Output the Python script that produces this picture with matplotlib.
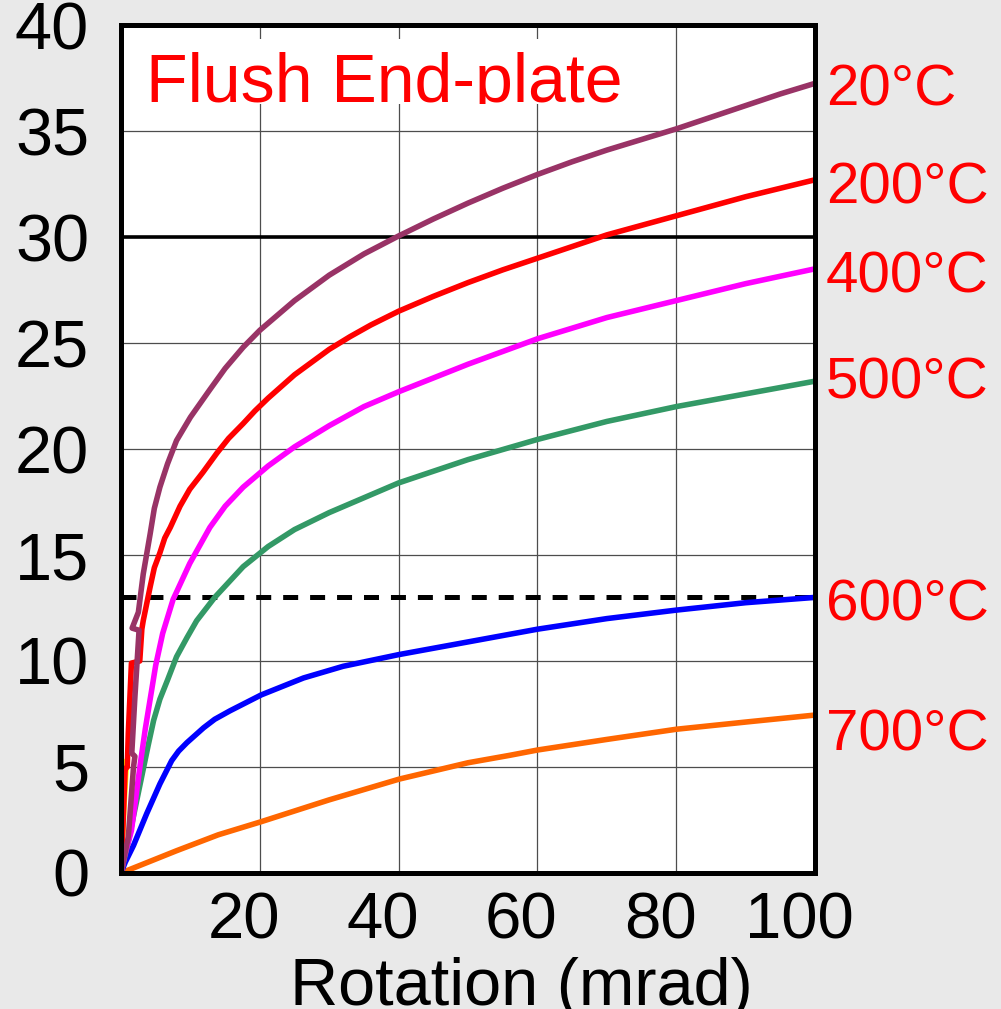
import matplotlib
matplotlib.use("Agg")
import matplotlib.pyplot as plt
import matplotlib.transforms as mtransforms
from matplotlib.patches import Rectangle

plt.rcParams["font.family"] = ["Liberation Sans", "DejaVu Sans"]
plt.rcParams["lines.scale_dashes"] = False

# rotation (mrad) / moment curves
X_20 = [0, 1.05, 1.8, 2.0, 1.55, 2.0, 2.6, 1.6, 2.5, 3.2, 4.2, 4.8, 5.6, 6.7, 8.0, 10, 12.8, 15, 17.6, 20, 25, 30, 35, 40, 45, 50, 55, 60, 65, 70, 75, 80, 85, 90, 95, 100]
Y_20 = [0, 1.7, 5.0, 5.5, 5.65, 8.3, 11.45, 11.55, 12.3, 14.1, 16.0, 17.2, 18.2, 19.3, 20.4, 21.5, 22.8, 23.8, 24.8, 25.6, 27.0, 28.2, 29.2, 30.05, 30.85, 31.6, 32.3, 32.95, 33.55, 34.1, 34.6, 35.1, 35.65, 36.2, 36.75, 37.25]

X_200 = [0, 0.4, 0.6, 0.9, 1.05, 1.5, 2.7, 3.0, 3.2, 4.2, 4.8, 5.6, 6.3, 7.1, 8.5, 9.9, 11.8, 13.8, 15.5, 17.6, 19.3, 21.2, 25, 27.5, 30, 33, 36, 40, 45, 50, 55, 60, 65, 70, 75, 80, 85, 90, 95, 100]
Y_200 = [0, 3.2, 4.9, 5.0, 6.6, 9.9, 10.0, 11.5, 11.9, 13.5, 14.4, 15.1, 15.8, 16.3, 17.3, 18.1, 18.9, 19.8, 20.5, 21.2, 21.8, 22.4, 23.5, 24.1, 24.7, 25.3, 25.85, 26.5, 27.2, 27.85, 28.45, 29.0, 29.55, 30.1, 30.55, 31.0, 31.45, 31.9, 32.3, 32.7]

X_400 = [0, 0.5, 1.5, 2.8, 3.5, 4.2, 5.0, 6.0, 7.5, 9.9, 12.8, 15, 17.6, 21.2, 25, 30, 35, 40, 50, 60, 70, 80, 90, 100]
Y_400 = [0, 0.8, 2.0, 5.2, 6.8, 8.2, 9.8, 11.3, 12.9, 14.6, 16.3, 17.3, 18.2, 19.2, 20.1, 21.1, 22.0, 22.7, 24.0, 25.2, 26.2, 27.0, 27.8, 28.5]

X_500 = [0, 1.0, 2.0, 3.9, 4.7, 5.6, 6.7, 8.0, 9.5, 10.9, 13.5, 17.6, 21.2, 25, 30, 40, 50, 60, 70, 80, 90, 100]
Y_500 = [0, 1.4, 3.0, 6.0, 7.2, 8.2, 9.1, 10.2, 11.1, 11.9, 13.0, 14.45, 15.4, 16.2, 17.0, 18.4, 19.5, 20.45, 21.3, 22.0, 22.6, 23.2]

X_600 = [0, 0.6, 1.8, 3.7, 5.6, 7.3, 8.3, 9.5, 11.9, 13.5, 15.7, 20.2, 26.3, 32, 40, 50, 60, 70, 80, 90, 100]
Y_600 = [0, 0.5, 1.3, 2.8, 4.2, 5.3, 5.75, 6.15, 6.85, 7.25, 7.65, 8.4, 9.2, 9.75, 10.3, 10.9, 11.5, 12.0, 12.4, 12.75, 13.0]

X_700 = [0, 8, 14, 20.2, 30, 40.1, 50, 56, 60, 70, 80, 90.6, 100]
Y_700 = [0, 1.05, 1.8, 2.42, 3.45, 4.43, 5.2, 5.55, 5.8, 6.3, 6.78, 7.14, 7.45]

X_YEL = [0, 0.4, 0.8]
Y_YEL = [0, 3.0, 5.3]

SERIES = [
    (X_700, Y_700, "#ff6600"),
    (X_600, Y_600, "#0000ff"),
    (X_500, Y_500, "#339966"),
    (X_400, Y_400, "#ff00ff"),
    (X_YEL, Y_YEL, "#ffff00"),
    (X_200, Y_200, "#ff0000"),
    (X_20, Y_20, "#993366"),
]

LABELS = ["20°C", "200°C", "400°C", "500°C", "600°C", "700°C"]
LABEL_Y = [36.2, 31.6, 27.4, 22.4, 11.9, 5.8]

X_TICKS = [20, 40, 60, 80, 100]
Y_TICKS = [0, 5, 10, 15, 20, 25, 30, 35, 40]
SOLID_LIMIT = 30
DASHED_LIMIT = 13

fig = plt.figure(figsize=(10.01, 10.09), dpi=100, facecolor="#e9e9e9")
ax = fig.add_axes([0.1209, 0.1348, 0.6933, 0.8404])
ax.set_facecolor("white")
ax.set_xlim(0, 100)
ax.set_ylim(0, 40)

ax.set_xticks(X_TICKS)
ax.set_yticks(Y_TICKS)
ax.set_xticklabels([str(v) for v in X_TICKS])
ax.set_yticklabels([str(v) for v in Y_TICKS])
ax.tick_params(axis="x", length=0, pad=13, labelsize=47)
ax.tick_params(axis="y", length=0, pad=23, labelsize=48)
ax.grid(True, color="#4d4d4d", linewidth=0.9)
for spine in ax.spines.values():
    spine.set_linewidth(3.6)
    spine.set_zorder(6)

shift = mtransforms.ScaledTranslation(-0.16, 0, fig.dpi_scale_trans)
for tick in ax.xaxis.get_major_ticks():
    tick.label1.set_transform(tick.label1.get_transform() + shift)

ax.axhline(SOLID_LIMIT, color="black", linewidth=2.6, zorder=3)
ax.axhline(DASHED_LIMIT, color="black", linewidth=3.6, dashes=(10.8, 8.6), zorder=3)

for xs, ys, color in SERIES:
    ax.plot(xs, ys, color=color, linewidth=4.0, zorder=4,
            solid_joinstyle="round", solid_capstyle="round")

box = Rectangle((0, 0.9068), 0.762, 0.0767, transform=ax.transAxes,
                facecolor="white", edgecolor="none", zorder=2.5)
ax.add_patch(box)
title = ax.text(0.036, 0.909, "Flush End-plate", transform=ax.transAxes,
                color="#ff0000", fontsize=49, va="baseline", ha="left",
                zorder=3, clip_on=True)
title.set_clip_path(box)

side = mtransforms.blended_transform_factory(ax.transAxes, ax.transData)
for label, y in zip(LABELS, LABEL_Y):
    ax.text(1.016, y, label, transform=side, color="#ff0000", fontsize=42,
            va="baseline", ha="left", clip_on=False)

fig.text(0.5205, 0.004, "Rotation (mrad)", ha="center", va="baseline", fontsize=48)

fig.savefig("out.png", dpi=100, facecolor=fig.get_facecolor())
